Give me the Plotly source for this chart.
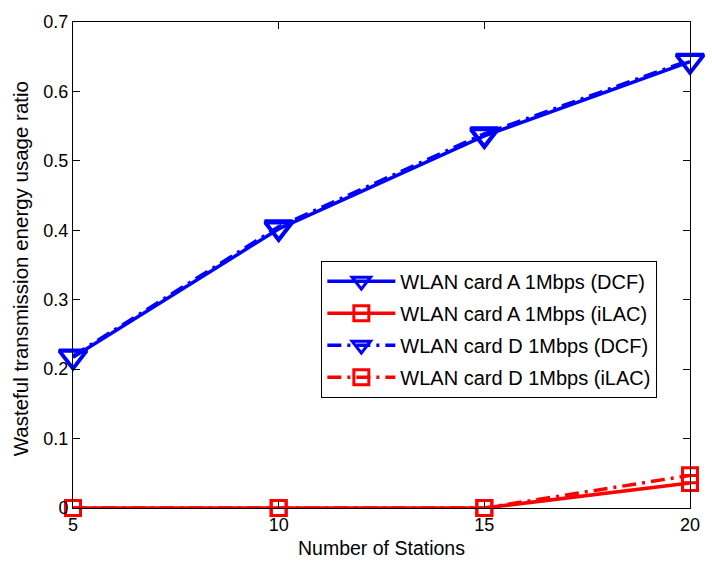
import plotly.graph_objects as go

stations = [5, 10, 15, 20]
card_a_dcf = [0.217, 0.402, 0.536, 0.643]
card_a_ilac = [0.0, 0.0, 0.0, 0.036]
card_d_dcf = [0.219, 0.405, 0.539, 0.645]
card_d_ilac = [0.0, 0.0, 0.0, 0.047]

FONT = "Liberation Sans, Arial, sans-serif"
DASHDOT = "14px,6px,3px,6px"

series = [
    ("WLAN card A 1Mbps (DCF)", card_a_dcf, "#0000ff", "solid", "triangle-down-open", 24),
    ("WLAN card A 1Mbps (iLAC)", card_a_ilac, "#ff0000", "solid", "square-open", 15),
    ("WLAN card D 1Mbps (DCF)", card_d_dcf, "#0000ff", DASHDOT, "triangle-down-open", 24),
    ("WLAN card D 1Mbps (iLAC)", card_d_ilac, "#ff0000", DASHDOT, "square-open", 15),
]

fig = go.Figure()
for i, (name, vals, color, dash, symbol, size) in enumerate(series):
    fig.add_trace(go.Scatter(
        x=stations, y=vals, name=name, mode="lines+markers",
        legendgroup=f"g{i}",
        line=dict(color=color, width=3.5, dash=dash),
        marker=dict(symbol=symbol, size=size, color=color, line=dict(width=3, color=color)),
        cliponaxis=False,
    ))

axis_common = dict(
    showline=True, linecolor="black", linewidth=1, mirror="ticks",
    ticks="inside", ticklen=7, tickcolor="black", showgrid=False, zeroline=False,
    tickfont=dict(family=FONT, size=18, color="black"),
)

fig.update_layout(
    width=712, height=563,
    margin=dict(l=73, r=13, t=15, b=55),
    paper_bgcolor="white", plot_bgcolor="white",
    font=dict(family=FONT, size=18, color="black"),
    xaxis=dict(range=[5, 20], tickvals=[5, 10, 15, 20], **axis_common),
    yaxis=dict(range=[0, 0.7], tickvals=[0, 0.1, 0.2, 0.3, 0.4, 0.5, 0.6, 0.7],
               ticktext=["0", "0.1", "0.2", "0.3", "0.4", "0.5", "0.6", "0.7"],
               **axis_common),
    legend=dict(x=0.4025, y=0.509, xanchor="left", yanchor="top",
                bgcolor="white", bordercolor="black", borderwidth=1,
                font=dict(size=20), tracegroupgap=3, traceorder="grouped", itemwidth=68),
    showlegend=True,
    annotations=[
        dict(text="Number of Stations", xref="paper", yref="paper",
             x=0.5, y=-0.0822, xanchor="center", yanchor="middle",
             showarrow=False, font=dict(family=FONT, size=19.5, color="black")),
        dict(text="Wasteful transmission energy usage ratio", xref="paper", yref="paper",
             x=-0.0845, y=0.493, xanchor="center", yanchor="middle", textangle=-90,
             showarrow=False, font=dict(family=FONT, size=20.5, color="black")),
    ],
)

fig.write_html("out.html")
